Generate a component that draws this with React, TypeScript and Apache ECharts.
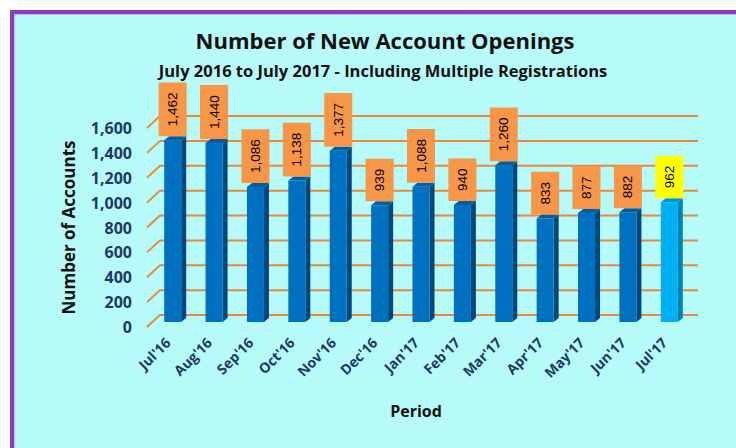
import React, { useEffect, useRef } from "react";
import * as echarts from "echarts";

const categories = ["Jul'16", "Aug'16", "Sep'16", "Oct'16", "Nov'16", "Dec'16", "Jan'17", "Feb'17", "Mar'17", "Apr'17", "May'17", "Jun'17", "Jul'17"];
const accounts = [1462, 1440, 1086, 1138, 1377, 939, 1088, 940, 1260, 833, 877, 882, 962];
const yTicks = [0, 200, 400, 600, 800, 1000, 1200, 1400, 1600];
const titleText = "Number of New Account Openings";
const subtitleText = "July 2016 to July 2017 - Including Multiple Registrations";

const FONT = "'Open Sans', Lato, sans-serif";
const NAVY = "#1F3864";

export default function App() {
  const ref = useRef<HTMLDivElement>(null);
  useEffect(() => {
    if (!ref.current) return;
    const chart = echarts.init(ref.current, null, { renderer: "svg" });
    const lastIdx = accounts.length - 1;
    const option: any = {
      animation: false,
      backgroundColor: "#ffffff",
      graphic: [
        { type: "rect", z: -10, silent: true, shape: { x: 10, y: 10, width: 740, height: 450 }, style: { fill: "#8B3FC6" } },
        { type: "rect", z: -9, silent: true, shape: { x: 14, y: 14, width: 740, height: 450 }, style: { fill: "#C9B2E6" } },
        { type: "rect", z: -8, silent: true, shape: { x: 15, y: 15, width: 740, height: 450 }, style: { fill: "#B6FBFA" } },
      ],
      title: [
        {
          text: titleText,
          left: 385,
          top: 27,
          padding: 0,
          textAlign: "center",
          textStyle: { fontFamily: FONT, fontWeight: "bold", fontSize: 22, lineHeight: 26, color: "#111111" },
        },
        {
          text: subtitleText,
          left: 383,
          top: 60,
          padding: 0,
          textAlign: "center",
          textStyle: { fontFamily: FONT, fontWeight: "bold", fontSize: 16.5, lineHeight: 20, color: "#111111" },
        },
      ],
      grid: { left: 147, top: 128, width: 538, height: 199, containLabel: false },
      xAxis: {
        type: "category",
        data: categories,
        axisLine: { show: false },
        axisTick: { show: false },
        axisLabel: {
          interval: 0,
          rotate: 45,
          margin: 13,
          fontFamily: FONT,
          fontWeight: "bold",
          fontSize: 14,
          color: NAVY,
        },
        name: "Period",
        nameLocation: "middle",
        nameGap: 76,
        nameTextStyle: { fontFamily: FONT, fontWeight: "bold", fontSize: 16, color: "#111111" },
      },
      yAxis: {
        type: "value",
        min: 0,
        max: 1600,
        interval: 200,
        axisLine: { show: false },
        axisTick: { show: false },
        splitLine: { show: false },
        axisLabel: {
          margin: 15,
          fontFamily: FONT,
          fontWeight: "bold",
          fontSize: 16,
          color: NAVY,
          formatter: (v: number) => v.toLocaleString("en-US"),
        },
        name: "Number of Accounts",
        nameLocation: "middle",
        nameRotate: 90,
        nameGap: 70,
        nameTextStyle: { fontFamily: FONT, fontWeight: "bold", fontSize: 17, color: "#111111" },
      },
      series: [
        {
          type: "custom",
          z: 1,
          silent: true,
          data: yTicks.map((v) => [0, v]),
          renderItem: (params: any, api: any) => {
            const cs = params.coordSys;
            const y = api.coord([0, api.value(1)])[1];
            const x = cs.x;
            return {
              type: "polyline",
              shape: { points: [[x, y], [x + 13, y - 12], [x + cs.width + 13, y - 12]] },
              style: { stroke: "#E88A3A", lineWidth: 2, fill: null },
            };
          },
        },
        {
          type: "custom",
          z: 5,
          silent: true,
          data: accounts.map((v, i) => [i, v]),
          renderItem: (params: any, api: any) => {
            const i = api.value(0);
            const v = api.value(1);
            const top = api.coord([i, v]);
            const base = api.coord([i, 0]);
            const cx = top[0] + 5;
            const ty = top[1] - 5;
            const by = base[1] - 5;
            const hw = 8.5;
            const dx = 5;
            const dy = 4;
            const isLast = i === lastIdx;
            const front = isLast ? "#00B0F0" : "#0070C0";
            const side = isLast ? "#0083B5" : "#00487F";
            const topc = isLast ? "#0098D4" : "#005EA6";
            return {
              type: "group",
              children: [
                {
                  type: "polygon",
                  shape: { points: [[cx + hw, ty], [cx + hw + dx, ty - dy], [cx + hw + dx, by - dy], [cx + hw, by]] },
                  style: { fill: side },
                },
                {
                  type: "polygon",
                  shape: { points: [[cx - hw, ty], [cx - hw + dx, ty - dy], [cx + hw + dx, ty - dy], [cx + hw, ty]] },
                  style: { fill: topc },
                },
                {
                  type: "rect",
                  shape: { x: cx - hw, y: ty, width: hw * 2, height: by - ty },
                  style: { fill: front },
                },
                {
                  type: "text",
                  x: cx,
                  y: ty - 4,
                  rotation: Math.PI / 2,
                  style: {
                    text: v.toLocaleString("en-US"),
                    fontFamily: "'Liberation Sans', Arial, sans-serif",
                    fontSize: 13.5,
                    lineHeight: 16,
                    fill: "#000000",
                    align: "left",
                    verticalAlign: "middle",
                    backgroundColor: isLast ? "#FFFF00" : "#F79646",
                    padding: [6, 10],
                  },
                },
              ],
            };
          },
        },
      ],
    };
    chart.setOption(option);
    return () => chart.dispose();
  }, []);
  return <div ref={ref} style={{ position: "fixed", left: 0, top: 0, width: 736, height: 448 }} />;
}
